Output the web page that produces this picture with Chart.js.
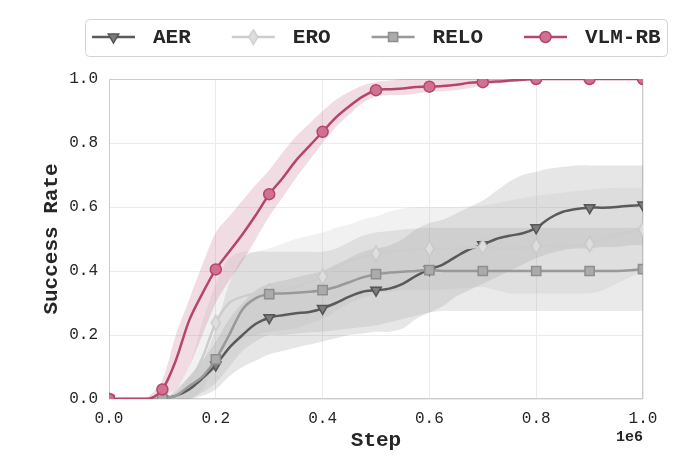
<!DOCTYPE html>
<html lang="en">
<head>
<meta charset="UTF-8">
<title>Success Rate</title>
<script src="https://cdn.jsdelivr.net/npm/chart.js@4.4.6/dist/chart.umd.min.js"></script>
<style>
  html, body { margin: 0; padding: 0; background: #fff; }
</style>
</head>
<body>
<canvas id="chart" width="692" height="476"></canvas>
<script>
// training steps (one reading every 25k steps)
const steps = [0, 25000, 50000, 75000, 100000, 125000, 150000, 175000, 200000, 225000,
  250000, 275000, 300000, 325000, 350000, 375000, 400000, 425000, 450000, 475000,
  500000, 525000, 550000, 575000, 600000, 625000, 650000, 675000, 700000, 725000,
  750000, 775000, 800000, 825000, 850000, 875000, 900000, 925000, 950000, 975000, 1000000];

const aerMean = [0, 0, 0, 0, 0, 0.01, 0.03, 0.065, 0.106, 0.16, 0.2, 0.235, 0.254,
  0.262, 0.268, 0.272, 0.283, 0.3, 0.32, 0.335, 0.34, 0.345, 0.36, 0.385, 0.405,
  0.42, 0.445, 0.468, 0.482, 0.5, 0.51, 0.518, 0.535, 0.565, 0.585, 0.594, 0.598,
  0.598, 0.6, 0.604, 0.606];
const aerHi = [0, 0, 0, 0, 0, 0.03, 0.07, 0.12, 0.18, 0.25, 0.3, 0.34, 0.36,
  0.37, 0.38, 0.39, 0.4, 0.42, 0.44, 0.46, 0.47, 0.48, 0.5, 0.53, 0.55,
  0.56, 0.58, 0.6, 0.62, 0.65, 0.68, 0.7, 0.71, 0.72, 0.725, 0.73, 0.73,
  0.73, 0.73, 0.73, 0.73];
const aerLo = [0, 0, 0, 0, 0, 0, 0, 0.01, 0.03, 0.07, 0.1, 0.12, 0.14,
  0.15, 0.16, 0.17, 0.18, 0.19, 0.2, 0.205, 0.21, 0.21, 0.22, 0.25, 0.27,
  0.29, 0.32, 0.34, 0.36, 0.38, 0.4, 0.42, 0.44, 0.455, 0.465, 0.47, 0.47,
  0.475, 0.475, 0.48, 0.48];

const eroMean = [0, 0, 0, 0, 0, 0.01, 0.05, 0.13, 0.238, 0.3, 0.32, 0.33, 0.335,
  0.34, 0.35, 0.365, 0.382, 0.41, 0.43, 0.445, 0.455, 0.46, 0.465, 0.468, 0.47,
  0.468, 0.47, 0.473, 0.476, 0.472, 0.47, 0.472, 0.478, 0.478, 0.476, 0.48, 0.484,
  0.5, 0.515, 0.522, 0.53];
const eroHi = [0, 0, 0, 0, 0, 0.03, 0.1, 0.24, 0.36, 0.44, 0.46, 0.46, 0.47,
  0.485, 0.5, 0.51, 0.52, 0.535, 0.545, 0.56, 0.57, 0.585, 0.595, 0.6, 0.6,
  0.6, 0.6, 0.602, 0.605, 0.612, 0.62, 0.628, 0.635, 0.64, 0.645, 0.65, 0.655,
  0.658, 0.66, 0.66, 0.66];
const eroLo = [0, 0, 0, 0, 0, 0, 0, 0.03, 0.12, 0.17, 0.19, 0.2, 0.21,
  0.215, 0.22, 0.235, 0.25, 0.275, 0.3, 0.315, 0.33, 0.335, 0.34, 0.34, 0.34,
  0.342, 0.345, 0.348, 0.35, 0.34, 0.33, 0.33, 0.33, 0.33, 0.33, 0.33, 0.33,
  0.34, 0.36, 0.38, 0.4];

const reloMean = [0, 0, 0, 0, 0, 0.01, 0.04, 0.07, 0.124, 0.2, 0.28, 0.315, 0.328,
  0.33, 0.332, 0.335, 0.34, 0.35, 0.365, 0.38, 0.39, 0.395, 0.398, 0.4, 0.403,
  0.4, 0.4, 0.4, 0.4, 0.4, 0.4, 0.4, 0.4, 0.4, 0.4, 0.4, 0.4,
  0.4, 0.4, 0.402, 0.406];
const reloHi = [0, 0, 0, 0, 0, 0.02, 0.07, 0.12, 0.22, 0.36, 0.44, 0.46, 0.46,
  0.46, 0.46, 0.46, 0.46, 0.47, 0.49, 0.51, 0.52, 0.525, 0.53, 0.533, 0.535,
  0.535, 0.535, 0.535, 0.535, 0.535, 0.535, 0.535, 0.535, 0.535, 0.535, 0.535, 0.535,
  0.535, 0.535, 0.535, 0.535];
const reloLo = [0, 0, 0, 0, 0, 0, 0, 0.02, 0.05, 0.1, 0.15, 0.18, 0.2,
  0.2, 0.205, 0.208, 0.21, 0.215, 0.22, 0.225, 0.23, 0.24, 0.25, 0.26, 0.27,
  0.275, 0.275, 0.275, 0.275, 0.275, 0.275, 0.275, 0.275, 0.275, 0.275, 0.275, 0.275,
  0.275, 0.275, 0.275, 0.275];

const vlmMean = [0, 0, 0, 0, 0.03, 0.12, 0.245, 0.33, 0.405, 0.46, 0.515, 0.575, 0.64,
  0.69, 0.745, 0.79, 0.835, 0.88, 0.915, 0.945, 0.965, 0.968, 0.97, 0.975, 0.976,
  0.978, 0.982, 0.988, 0.99, 0.992, 0.995, 0.998, 1, 1, 1, 1, 1,
  1, 1, 1, 1];
const vlmHi = [0, 0, 0, 0.01, 0.06, 0.2, 0.31, 0.42, 0.52, 0.57, 0.62, 0.67, 0.715,
  0.77, 0.82, 0.86, 0.9, 0.935, 0.96, 0.98, 0.99, 0.995, 1, 1, 1,
  1, 1, 1, 1, 1, 1, 1, 1, 1, 1, 1, 1,
  1, 1, 1, 1];
const vlmLo = [0, 0, 0, 0, 0.01, 0.03, 0.1, 0.2, 0.3, 0.37, 0.43, 0.5, 0.57,
  0.63, 0.69, 0.745, 0.8, 0.85, 0.89, 0.925, 0.945, 0.95, 0.95, 0.955, 0.96,
  0.962, 0.965, 0.972, 0.98, 0.985, 0.99, 0.995, 1, 1, 1, 1, 1,
  1, 1, 1, 1];

const yTicks = [0, 0.2, 0.4, 0.6, 0.8, 1.0];

const FONT = '"Liberation Mono", "Courier New", monospace';

// thin diamond marker (matplotlib 'd' look)
function diamond(w, h, fill, edge) {
  const c = document.createElement('canvas');
  c.width = w + 2; c.height = h + 2;
  const g = c.getContext('2d');
  g.beginPath();
  g.moveTo(c.width / 2, 1);
  g.lineTo(c.width - 1, c.height / 2);
  g.lineTo(c.width / 2, c.height - 1);
  g.lineTo(1, c.height / 2);
  g.closePath();
  g.fillStyle = fill; g.fill();
  g.strokeStyle = edge; g.lineWidth = 1.2; g.stroke();
  return c;
}

const series = [
  { label: 'AER', mean: aerMean, hi: aerHi, lo: aerLo, line: '#5a5a5a', face: '#7c7c7c', edge: '#555555',
    band: 'rgba(100,100,100,0.16)', style: 'triangle', r: 6, rot: 180, order: 4 },
  { label: 'ERO', mean: eroMean, hi: eroHi, lo: eroLo, line: '#cdcdcd', face: '#dddddd', edge: '#c4c4c4',
    band: 'rgba(190,190,190,0.22)', style: diamond(9, 15, '#dedede', '#c6c6c6'), r: 5, rot: 0, order: 3 },
  { label: 'RELO', mean: reloMean, hi: reloHi, lo: reloLo, line: '#999999', face: '#ababab', edge: '#8e8e8e',
    band: 'rgba(150,150,150,0.2)', style: 'rect', r: 6.5, rot: 0, order: 2 },
  { label: 'VLM-RB', mean: vlmMean, hi: vlmHi, lo: vlmLo, line: '#b6456b', face: '#d0718f', edge: '#b6456b',
    band: 'rgba(190,80,115,0.2)', style: 'circle', r: 5.5, rot: 0, order: 1 }
];

const pts = arr => steps.map((s, i) => ({ x: s, y: arr[i] }));
const isMark = ctx => steps[ctx.dataIndex] % 100000 === 0;

const datasets = [];
series.forEach(s => {
  datasets.push({
    label: s.label + ' hi', data: pts(s.hi), borderWidth: 0, pointRadius: 0,
    fill: false, tension: 0.3, order: 10 + s.order, clip: 0
  });
  datasets.push({
    label: s.label + ' lo', data: pts(s.lo), borderWidth: 0, pointRadius: 0,
    fill: '-1', backgroundColor: s.band, tension: 0.3, order: 10 + s.order, clip: 0
  });
  datasets.push({
    label: s.label, data: pts(s.mean), borderColor: s.line, borderWidth: 2.5,
    tension: 0.3, fill: false, order: s.order, clip: 0,
    pointStyle: s.style, pointRotation: s.rot,
    pointRadius: ctx => isMark(ctx) ? s.r : 0,
    pointBackgroundColor: s.face, pointBorderColor: s.edge, pointBorderWidth: 1.5
  });
});

const decorations = {
  id: 'decorations',
  beforeDatasetsDraw(chart) {
    const { ctx, chartArea: a } = chart;
    ctx.save();
    ctx.strokeStyle = '#cccccc';
    ctx.lineWidth = 1;
    ctx.strokeRect(a.left + 0.5, a.top + 0.5, a.right - a.left - 1, a.bottom - a.top - 1);
    ctx.restore();
  },
  afterDraw(chart) {
    const { ctx, chartArea: a } = chart;
    ctx.save();
    // offset text of x axis
    ctx.font = 'bold 15px ' + FONT;
    ctx.fillStyle = '#262626';
    ctx.textAlign = 'right';
    ctx.textBaseline = 'middle';
    ctx.fillText('1e6', a.right, 437);

    // legend
    ctx.beginPath();
    ctx.roundRect(85.5, 19.5, 582, 37, 4);
    ctx.strokeStyle = '#d3d3d3';
    ctx.lineWidth = 1;
    ctx.stroke();
    ctx.font = 'bold 21px ' + FONT;
    ctx.textAlign = 'left';
    let x = 92;
    const y = 37;
    series.forEach(s => {
      ctx.strokeStyle = s.line;
      ctx.lineWidth = 2.5;
      ctx.beginPath();
      ctx.moveTo(x, y);
      ctx.lineTo(x + 43, y);
      ctx.stroke();
      ctx.fillStyle = s.face;
      ctx.strokeStyle = s.edge;
      ctx.lineWidth = 1.5;
      Chart.helpers.drawPoint(ctx, { pointStyle: s.style, radius: s.r, rotation: s.rot, borderWidth: 1.5 }, x + 21.5, y);
      ctx.fillStyle = '#262626';
      ctx.fillText(s.label, x + 61, y + 1);
      x += 61 + ctx.measureText(s.label).width + 41;
    });
    ctx.restore();
  }
};

new Chart(document.getElementById('chart'), {
  type: 'line',
  data: { datasets: datasets },
  plugins: [decorations],
  options: {
    responsive: false,
    devicePixelRatio: 1,
    animation: false,
    layout: { padding: { top: 79, right: 49, left: 0, bottom: 0 } },
    plugins: { legend: { display: false }, tooltip: { enabled: false } },
    scales: {
      x: {
        type: 'linear', min: 0, max: 1000000,
        afterFit: scale => { scale.height = 77; },
        afterBuildTicks: scale => { scale.ticks = yTicks.map(v => ({ value: v * 1e6 })); },
        ticks: {
          callback: v => (v / 1e6).toFixed(1), maxRotation: 0, autoSkip: false,
          padding: 10, color: '#262626', font: { family: FONT, size: 16 }
        },
        grid: { color: '#ebebeb', drawTicks: false },
        border: { display: false },
        title: {
          display: true, text: 'Step', color: '#262626',
          font: { family: FONT, size: 21, weight: 'bold' }, padding: { top: 0, bottom: 23 }
        }
      },
      y: {
        min: 0, max: 1,
        afterFit: scale => { scale.width = 109; },
        afterBuildTicks: scale => { scale.ticks = yTicks.map(v => ({ value: v })); },
        ticks: {
          callback: v => v.toFixed(1), padding: 11, color: '#262626',
          font: { family: FONT, size: 16 }
        },
        grid: { color: '#ebebeb', drawTicks: false },
        border: { display: false },
        title: {
          display: true, text: 'Success Rate', color: '#262626',
          font: { family: FONT, size: 21, weight: 'bold' }, padding: { top: 39, bottom: 0 }
        }
      }
    }
  }
});
</script>
</body>
</html>
